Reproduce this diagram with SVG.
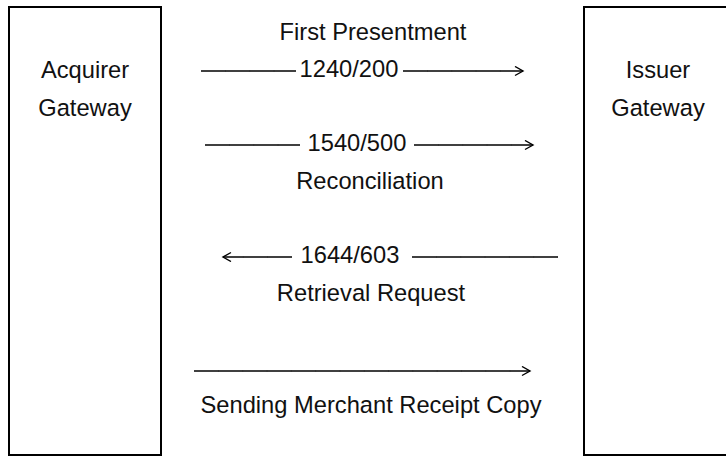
<svg xmlns="http://www.w3.org/2000/svg" width="726" height="457" viewBox="0 0 726 457">
  <style>
    .box { fill: #ffffff; stroke: #000000; stroke-width: 2; }
    .lbl { font-family: "Liberation Sans", Arial, sans-serif; font-size: 23.7px; fill: #111111; text-anchor: middle; }
    .ln { stroke: #000000; stroke-width: 1.4; fill: none; }
    .tick { stroke: #333333; stroke-width: 2.2; stroke-dasharray: 0.9 23.4; fill: none; }
  </style>
  <defs>
    <marker id="arr" markerUnits="userSpaceOnUse" markerWidth="12" markerHeight="12" refX="9" refY="5" orient="auto">
      <path d="M1,0.5 L9,5 L1,9.5" fill="none" stroke="#000000" stroke-width="1.4"/>
    </marker>
  </defs>
  <rect width="726" height="457" fill="#ffffff"/>

  <g id="acquirer">
    <rect class="box" x="9" y="7" width="152" height="448"/>
    <text class="lbl" x="85" y="78">Acquirer</text>
    <text class="lbl" x="85" y="116">Gateway</text>
  </g>

  <g id="issuer">
    <rect class="box" x="584" y="7" width="200" height="448"/>
    <text class="lbl" x="658" y="78">Issuer</text>
    <text class="lbl" x="658" y="116">Gateway</text>
  </g>

  <g id="connectors">
    <!-- First Presentment 1240/200 -->
    <path class="ln" d="M201,71 H296"/>
    <path class="tick" d="M225,71 H296"/>
    <path class="ln" d="M403,71 H523" marker-end="url(#arr)"/>
    <path class="tick" d="M427,71 H516"/>
    <!-- 1540/500 Reconciliation -->
    <path class="ln" d="M205,145 H300"/>
    <path class="tick" d="M229,145 H300"/>
    <path class="ln" d="M414,145 H533" marker-end="url(#arr)"/>
    <path class="tick" d="M438,145 H526"/>
    <!-- 1644/603 Retrieval Request -->
    <path class="ln" d="M292,257 H223" marker-end="url(#arr)"/>
    <path class="tick" d="M268,257 H230"/>
    <path class="ln" d="M412,257 H558"/>
    <path class="tick" d="M436,257 H558"/>
    <!-- Sending Merchant Receipt Copy -->
    <path class="ln" d="M194,371 H530" marker-end="url(#arr)"/>
    <path class="tick" d="M218,371 H522"/>
  </g>

  <g id="labels">
    <text class="lbl" x="373" y="40">First Presentment</text>
    <text class="lbl" x="349" y="77">1240/200</text>
    <text class="lbl" x="357" y="151">1540/500</text>
    <text class="lbl" x="370" y="189">Reconciliation</text>
    <text class="lbl" x="350" y="263">1644/603</text>
    <text class="lbl" x="371" y="301">Retrieval Request</text>
    <text class="lbl" x="371" y="413">Sending Merchant Receipt Copy</text>
  </g>
</svg>
